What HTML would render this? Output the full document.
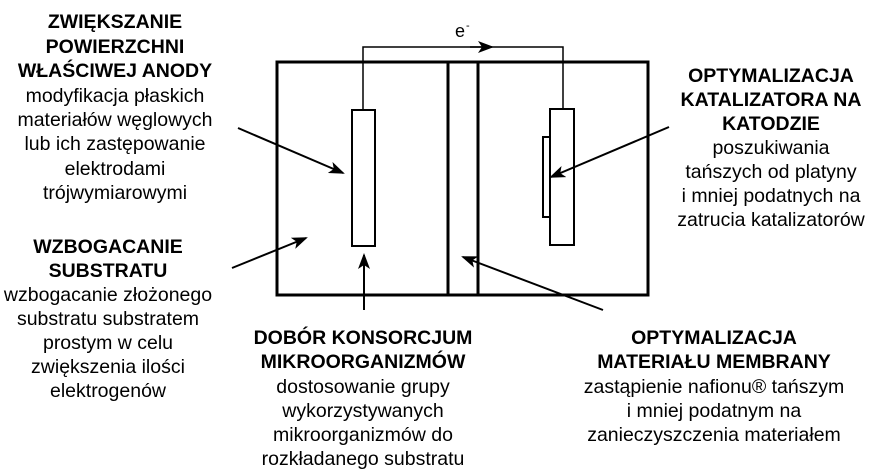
<!DOCTYPE html>
<html><head><meta charset="utf-8"><style>
html,body{margin:0;padding:0;background:#fff;}
svg{display:block;}
text{font-family:"Liberation Sans",Arial,sans-serif;font-size:19.5px;fill:#000;}
.b{font-weight:bold;}
</style></head><body>
<svg width="887" height="470" viewBox="0 0 887 470" xmlns="http://www.w3.org/2000/svg">
<defs>
<marker id="a2" markerWidth="16" markerHeight="12" refX="14" refY="6" orient="auto" markerUnits="userSpaceOnUse" viewBox="0 0 16 12">
<path d="M0,0 L16,6 L0,12 L4,6 Z" fill="#000"/>
</marker>
</defs>
<rect x="277" y="62" width="371" height="233" fill="none" stroke="#000" stroke-width="3"/>
<line x1="448" y1="62" x2="448" y2="295" stroke="#000" stroke-width="3"/>
<line x1="478" y1="62" x2="478" y2="295" stroke="#000" stroke-width="3"/>
<polyline points="363,110 363,47 563,47 563,109" fill="none" stroke="#000" stroke-width="1.5"/>
<line x1="470" y1="47" x2="492" y2="47" stroke="#000" stroke-width="1.5" marker-end="url(#a2)"/>
<text x="455" y="37" style="font-size:18px">e</text><text x="466" y="29" style="font-size:11px">-</text>
<rect x="352" y="110" width="23" height="136" fill="#fff" stroke="#000" stroke-width="2"/>
<rect x="543" y="137" width="7" height="80" fill="#fff" stroke="#000" stroke-width="2"/>
<rect x="550" y="109" width="24" height="136" fill="#fff" stroke="#000" stroke-width="2"/>
<g stroke="#000" stroke-width="2" fill="none">
<line x1="238" y1="128" x2="343" y2="173" marker-end="url(#a2)"/>
<line x1="232" y1="268" x2="306" y2="238" marker-end="url(#a2)"/>
<line x1="364" y1="310" x2="364" y2="255" marker-end="url(#a2)"/>
<line x1="603" y1="310" x2="463" y2="257" marker-end="url(#a2)"/>
<line x1="669" y1="127" x2="551" y2="177" marker-end="url(#a2)"/>
</g>
<g text-anchor="middle">
<text class="b" x="115" y="28">ZWIĘKSZANIE</text>
<text class="b" x="115" y="53">POWIERZCHNI</text>
<text class="b" x="115" y="77">WŁAŚCIWEJ ANODY</text>
<text x="115" y="102">modyfikacja płaskich</text>
<text x="115" y="126">materiałów węglowych</text>
<text x="115" y="150">lub ich zastępowanie</text>
<text x="115" y="175">elektrodami</text>
<text x="115" y="199">trójwymiarowymi</text>

<text class="b" x="108" y="253">WZBOGACANIE</text>
<text class="b" x="108" y="277">SUBSTRATU</text>
<text x="108" y="301">wzbogacanie złożonego</text>
<text x="108" y="325">substratu substratem</text>
<text x="108" y="349">prostym w celu</text>
<text x="108" y="373">zwiększenia ilości</text>
<text x="108" y="397">elektrogenów</text>

<text class="b" x="771" y="82">OPTYMALIZACJA</text>
<text class="b" x="771" y="106">KATALIZATORA NA</text>
<text class="b" x="771" y="130">KATODZIE</text>
<text x="771" y="154">poszukiwania</text>
<text x="771" y="178">tańszych od platyny</text>
<text x="771" y="202">i mniej podatnych na</text>
<text x="771" y="226">zatrucia katalizatorów</text>

<text class="b" x="363" y="344">DOBÓR KONSORCJUM</text>
<text class="b" x="363" y="368">MIKROORGANIZMÓW</text>
<text x="363" y="393">dostosowanie grupy</text>
<text x="363" y="417">wykorzystywanych</text>
<text x="363" y="441">mikroorganizmów do</text>
<text x="363" y="465">rozkładanego substratu</text>

<text class="b" x="714" y="344">OPTYMALIZACJA</text>
<text class="b" x="714" y="368">MATERIAŁU MEMBRANY</text>
<text x="714" y="393">zastąpienie nafionu® tańszym</text>
<text x="714" y="417">i mniej podatnym na</text>
<text x="714" y="441">zanieczyszczenia materiałem</text>
</g>
</svg>
</body></html>
